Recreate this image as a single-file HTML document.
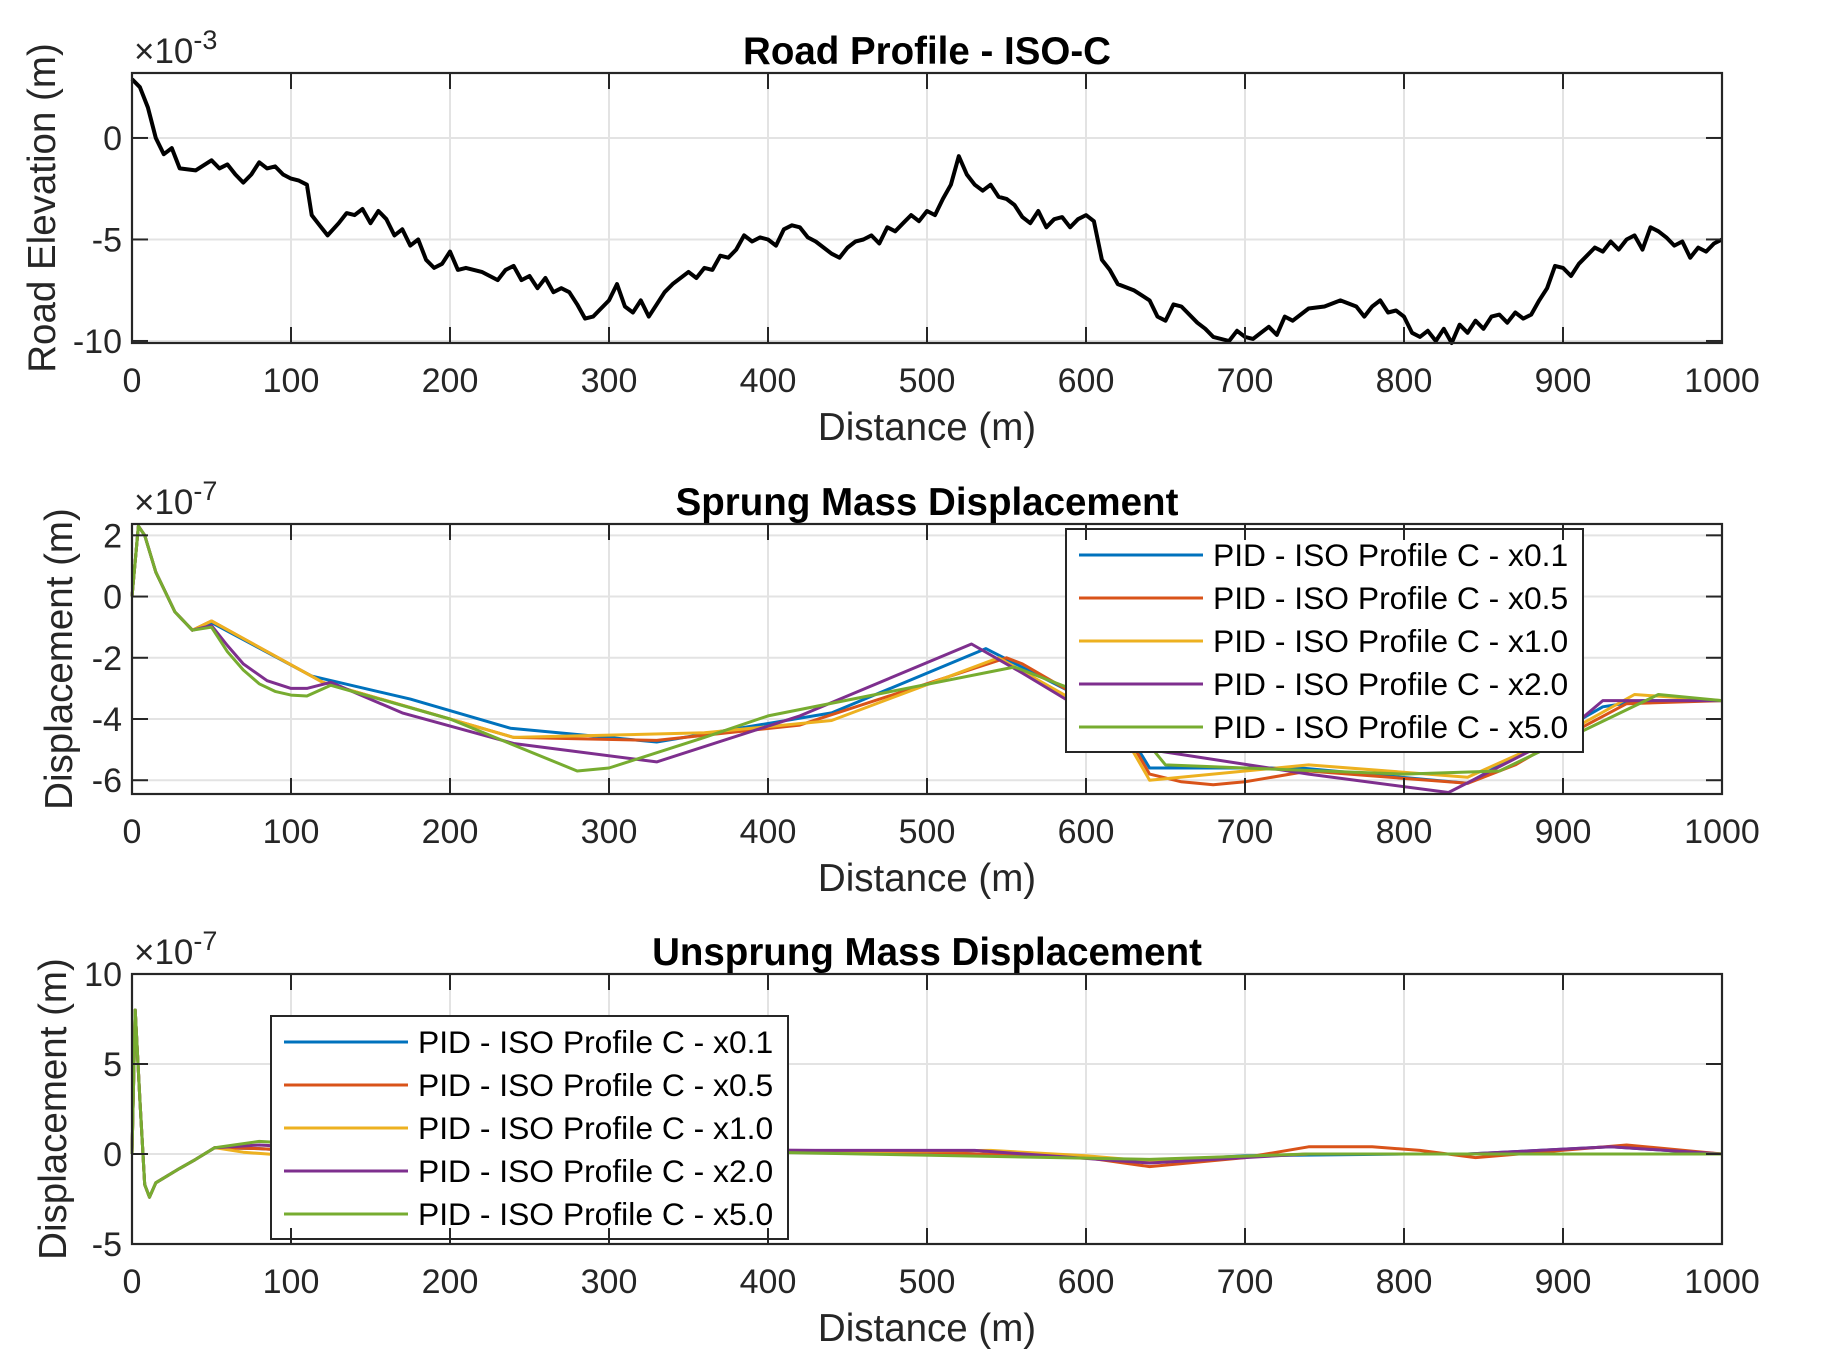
<!DOCTYPE html>
<html><head><meta charset="utf-8"><style>
html,body{margin:0;padding:0;background:#fff;}
svg{display:block;font-family:"Liberation Sans",Arial,sans-serif;}
</style></head><body>
<svg id="fig" width="1822" height="1365" viewBox="0 0 1822 1365" xmlns="http://www.w3.org/2000/svg"></svg>
<script>
// ---- data ----
const roadX = [0,5,10,15,20,25,30,40,50,55,60,65,70,75,80,85,90,95,100,105,110,113,118,123,130,135,140,145,150,155,160,165,170,175,180,185,190,195,200,205,210,220,230,235,240,245,250,255,260,265,270,275,280,285,290,295,300,305,310,315,320,325,330,335,340,350,355,360,365,370,375,380,385,390,395,400,405,410,415,420,425,430,440,445,450,455,460,465,470,475,480,485,490,495,500,505,510,515,520,525,530,535,540,545,550,555,560,565,570,575,580,585,590,595,600,605,610,615,620,630,640,645,650,655,660,665,670,675,680,690,695,700,705,710,715,720,725,730,740,750,760,770,775,780,785,790,795,800,805,810,815,820,825,830,835,840,845,850,855,860,865,870,875,880,885,890,895,900,905,910,915,920,925,930,935,940,945,950,955,960,965,970,975,980,985,990,995,1000];
const roadY = [2.9,2.5,1.5,0,-0.8,-0.5,-1.5,-1.6,-1.1,-1.5,-1.3,-1.8,-2.2,-1.8,-1.2,-1.5,-1.4,-1.8,-2.0,-2.1,-2.3,-3.8,-4.3,-4.8,-4.2,-3.7,-3.8,-3.5,-4.2,-3.6,-4.0,-4.8,-4.5,-5.3,-5.0,-6.0,-6.4,-6.2,-5.6,-6.5,-6.4,-6.6,-7.0,-6.5,-6.3,-7.0,-6.8,-7.4,-6.9,-7.6,-7.4,-7.6,-8.2,-8.9,-8.8,-8.4,-8.0,-7.2,-8.3,-8.6,-8.0,-8.8,-8.2,-7.6,-7.2,-6.6,-6.9,-6.4,-6.5,-5.8,-5.9,-5.5,-4.8,-5.1,-4.9,-5.0,-5.3,-4.5,-4.3,-4.4,-4.9,-5.1,-5.7,-5.9,-5.4,-5.1,-5.0,-4.8,-5.2,-4.4,-4.6,-4.2,-3.8,-4.1,-3.6,-3.8,-3.0,-2.3,-0.9,-1.8,-2.3,-2.6,-2.3,-2.9,-3.0,-3.3,-3.9,-4.2,-3.6,-4.4,-4.0,-3.9,-4.4,-4.0,-3.8,-4.1,-6.0,-6.5,-7.2,-7.5,-8.0,-8.8,-9.0,-8.2,-8.3,-8.7,-9.1,-9.4,-9.8,-10.0,-9.5,-9.8,-9.9,-9.6,-9.3,-9.7,-8.8,-9.0,-8.4,-8.3,-8.0,-8.3,-8.8,-8.3,-8.0,-8.6,-8.5,-8.8,-9.6,-9.8,-9.5,-10.0,-9.4,-10.1,-9.2,-9.6,-9.0,-9.4,-8.8,-8.7,-9.1,-8.6,-8.9,-8.7,-8.0,-7.4,-6.3,-6.4,-6.8,-6.2,-5.8,-5.4,-5.6,-5.1,-5.5,-5.0,-4.8,-5.5,-4.4,-4.6,-4.9,-5.3,-5.1,-5.9,-5.4,-5.6,-5.2,-5.0];

const seriesNames = ["PID - ISO Profile C - x0.1","PID - ISO Profile C - x0.5","PID - ISO Profile C - x1.0","PID - ISO Profile C - x2.0","PID - ISO Profile C - x5.0"];
const seriesColors = ["#0072BD","#D95319","#EDB120","#7E2F8E","#77AC30"];

const sprungX1 = [0,4,8,15,27,38,50,113,175,238,330,440,537,620,640,735,840,925,950,1000];
const sprungY1 = [0,2.3,2.0,0.8,-0.5,-1.1,-0.85,-2.6,-3.35,-4.3,-4.75,-3.8,-1.7,-3.9,-5.6,-5.6,-6.1,-3.6,-3.4,-3.4];
const sprungX2 = [0,4,8,15,27,38,50,120,240,330,420,550,560,620,640,660,680,700,740,840,870,900,940,1000];
const sprungY2 = [0,2.3,2.0,0.8,-0.5,-1.1,-0.8,-2.8,-4.6,-4.7,-4.2,-2.0,-2.2,-4.0,-5.8,-6.05,-6.15,-6.05,-5.7,-6.1,-5.5,-4.6,-3.5,-3.4];
const sprungX3 = [0,4,8,15,27,38,50,120,240,360,440,545,620,640,740,840,900,945,1000];
const sprungY3 = [0,2.3,2.0,0.8,-0.5,-1.1,-0.8,-2.8,-4.6,-4.45,-4.05,-2.0,-4.2,-6.0,-5.5,-5.9,-4.5,-3.2,-3.4];
const sprungX4 = [0,4,8,15,27,38,50,60,70,85,100,110,125,170,240,330,420,528,560,640,740,828,900,925,1000];
const sprungY4 = [0,2.3,2.0,0.8,-0.5,-1.1,-0.95,-1.6,-2.2,-2.75,-3.0,-3.0,-2.8,-3.8,-4.8,-5.4,-3.9,-1.55,-2.5,-5.0,-5.8,-6.4,-4.5,-3.4,-3.4];
const sprungX5 = [0,4,8,15,27,38,50,60,70,80,90,100,110,125,200,280,300,360,400,555,620,650,700,800,860,960,1000];
const sprungY5 = [0,2.3,2.0,0.8,-0.5,-1.1,-1.0,-1.8,-2.4,-2.85,-3.1,-3.22,-3.25,-2.9,-4.0,-5.7,-5.6,-4.6,-3.9,-2.3,-3.6,-5.5,-5.6,-5.8,-5.7,-3.2,-3.4];

const unsX1 = [0,2,5,8,11,15,30,40,52,80,100,200,400,500,600,640,700,800,840,930,1000];
const unsY1 = [0,8.0,3.0,-1.7,-2.4,-1.6,-0.8,-0.3,0.35,0.3,0.2,0.2,0.2,0.1,-0.2,-0.4,-0.1,0,0,0.4,0];
const unsX2 = [0,2,5,8,11,15,30,40,52,80,100,300,500,600,640,700,740,780,810,845,940,1000];
const unsY2 = [0,8.0,3.0,-1.7,-2.4,-1.6,-0.8,-0.3,0.35,0.3,0.2,0.2,0.1,-0.2,-0.7,-0.2,0.4,0.4,0.2,-0.2,0.5,0];
const unsX3 = [0,2,5,8,11,15,30,40,52,70,100,400,540,600,640,740,1000];
const unsY3 = [0,8.0,3.0,-1.7,-2.4,-1.6,-0.8,-0.3,0.35,0.1,-0.1,0.1,0.2,-0.1,-0.4,0,0];
const unsX4 = [0,2,5,8,11,15,30,40,52,80,100,430,530,640,740,840,930,1000];
const unsY4 = [0,8.0,3.0,-1.7,-2.4,-1.6,-0.8,-0.3,0.35,0.5,0.4,0.2,0.2,-0.5,0,0,0.4,0];
const unsX5 = [0,2,5,8,11,15,30,40,52,80,100,400,640,740,1000];
const unsY5 = [0,8.0,3.0,-1.7,-2.4,-1.6,-0.8,-0.3,0.35,0.7,0.6,0.1,-0.3,0,0];

const xTicks = [0,100,200,300,400,500,600,700,800,900,1000];
const roadTicks = [-10,-5,0];
const sprungTicks = [-6,-4,-2,0,2];
const unsTicks = [-5,0,5,10];

// ---- drawing ----
const NS = "http://www.w3.org/2000/svg";
const svg = document.getElementById("fig");
function mk(tag, attrs, parent){
  const e = document.createElementNS(NS, tag);
  for (const k in attrs) e.setAttribute(k, attrs[k]);
  (parent||svg).appendChild(e);
  return e;
}
const L = 132, R = 1722;
function xs(v){ return L + (v/1000)*(R-L); }

function axes(name, top, bottom, ymin, ymax, yticks, title, ylabel, expo, ylabelX){
  const g = mk("g", {});
  
  
  const ys = v => bottom - (v-ymin)/(ymax-ymin)*(bottom-top);
  xTicks.forEach(t => { const l = mk("line",{x1:xs(t),x2:xs(t),y1:top,y2:bottom,stroke:"#e3e3e3","stroke-width":2},g);
      });
  yticks.forEach(t => { const l = mk("line",{x1:L,x2:R,y1:ys(t),y2:ys(t),stroke:"#e3e3e3","stroke-width":2},g);
      });
  return {g, ys, top, bottom, finish(){
    const box = mk("rect",{x:L,y:top,width:R-L,height:bottom-top,fill:"none",stroke:"#262626","stroke-width":2.2},g);
     
    xTicks.forEach(t => {
      mk("line",{x1:xs(t),x2:xs(t),y1:bottom,y2:bottom-16,stroke:"#262626","stroke-width":2},g);
      mk("line",{x1:xs(t),x2:xs(t),y1:top,y2:top+16,stroke:"#262626","stroke-width":2},g);
      const tx = mk("text",{x:xs(t),y:bottom+49,"text-anchor":"middle","font-size":34,fill:"#262626"},g);
      tx.textContent = t;
       
    });
    yticks.forEach(t => {
      mk("line",{x1:L,x2:L+16,y1:ys(t),y2:ys(t),stroke:"#262626","stroke-width":2},g);
      mk("line",{x1:R,x2:R-16,y1:ys(t),y2:ys(t),stroke:"#262626","stroke-width":2},g);
      const tx = mk("text",{x:L-10,y:ys(t)+12,"text-anchor":"end","font-size":34,fill:"#262626"},g);
      tx.textContent = t;
       
    });
    const ti = mk("text",{x:(L+R)/2,y:top-9,"text-anchor":"middle","font-size":38.5,"font-weight":"bold",fill:"#000"},g);
    ti.textContent = title;
     
    const xl = mk("text",{x:(L+R)/2,y:bottom+97,"text-anchor":"middle","font-size":38.5,fill:"#262626"},g);
    xl.textContent = "Distance (m)";
     
    const yl = mk("text",{x:0,y:0,"text-anchor":"middle","font-size":38.5,fill:"#262626",transform:`translate(${ylabelX},${(top+bottom)/2}) rotate(-90)`},g);
    yl.textContent = ylabel;
     
    const ex = mk("text",{x:L+2,y:top-10,"font-size":35,fill:"#262626"},g);
    ex.innerHTML = '×10<tspan dy="-14" font-size="27">' + expo + '</tspan>';
     
  }};
}
function line(ax, X, Y, color, w, name){
  const d = X.map((x,i)=>(i?"L":"M")+xs(x).toFixed(1)+","+ax.ys(Y[i]).toFixed(1)).join("");
  const p = mk("path",{d, fill:"none", stroke:color, "stroke-width":w, "stroke-linejoin":"round"}, ax.g);
  
  
}
function legend(ax, x, y, w, h){
  const g = mk("g",{},ax.g);
  
  
  mk("rect",{x,y,width:w,height:h,fill:"#fff",stroke:"#262626","stroke-width":2},g);
  seriesNames.forEach((n,i)=>{
    const cy = y+26+43*i;
    const e = mk("g",{},g);
    
    
    mk("line",{x1:x+13,x2:x+137,y1:cy,y2:cy,stroke:seriesColors[i],"stroke-width":3},e);
    const t = mk("text",{x:x+147,y:cy+11,"font-size":31.8,fill:"#000"},e);
    t.textContent = n;
  });
}

const a1 = axes("road-profile-chart", 73, 343, -10.1, 3.2, roadTicks, "Road Profile - ISO-C", "Road Elevation (m)", "-3", 55);
line(a1, roadX, roadY, "#000", 4, "road-profile-line");
a1.finish();

const a2 = axes("sprung-mass-chart", 524, 794, -6.45, 2.37, sprungTicks, "Sprung Mass Displacement", "Displacement (m)", "-7", 72);
[[sprungX1,sprungY1],[sprungX2,sprungY2],[sprungX3,sprungY3],[sprungX4,sprungY4],[sprungX5,sprungY5]].forEach((s,i)=>line(a2,s[0],s[1],seriesColors[i],3,"sprung-line-"+i));
legend(a2, 1066, 529, 517, 223);
a2.finish();

const a3 = axes("unsprung-mass-chart", 974, 1244, -5, 10, unsTicks, "Unsprung Mass Displacement", "Displacement (m)", "-7", 66);
[[unsX1,unsY1],[unsX2,unsY2],[unsX3,unsY3],[unsX4,unsY4],[unsX5,unsY5]].forEach((s,i)=>line(a3,s[0],s[1],seriesColors[i],3,"unsprung-line-"+i));
legend(a3, 271, 1016, 517, 223);
a3.finish();
</script>
</body></html>
